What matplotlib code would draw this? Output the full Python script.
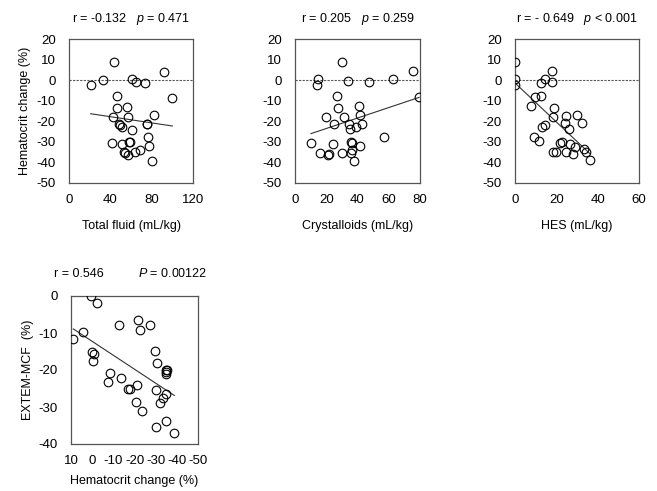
import matplotlib
matplotlib.use("Agg")
import matplotlib.pyplot as plt
import numpy as np

plt.rcParams['font.family'] = ['Liberation Sans', 'DejaVu Sans']
plt.rcParams['mathtext.fontset'] = 'custom'
plt.rcParams['mathtext.rm'] = 'Liberation Sans'
plt.rcParams['mathtext.it'] = 'Liberation Sans:italic'
plt.rcParams['axes.unicode_minus'] = False

# panel 1: total fluid vs hematocrit change
total_fluid = [44, 92, 21, 33, 61, 65, 74, 100, 46, 46, 56, 43, 57, 82, 48, 49.5,
               51, 61, 75, 76, 42, 51, 58, 59, 77, 69, 64, 54, 57, 80, 53, 75]
hct_total = [8.9, 4, -2.3, 0, 0.5, -1, -1.3, -8.5, -7.9, -13.7, -12.9, -17.9, -17.9, -17.1, -21.4, -22,
             -22.8, -24.1, -21.2, -27.7, -30.6, -31, -30.2, -30.2, -32.1, -34.1, -34.9, -35.4, -36.2, -39.3, -34.8, -21.5]

# panel 2: crystalloids
crystalloids = [30, 75.3, 14.9, 14, 33.6, 47.2, 62.6, 79.4, 26.8, 27.7, 40.9, 20, 31.5, 41.9, 24.7, 34.7,
                35.3, 39.1, 42.6, 57, 10.2, 24.5, 36, 36.4, 41.3, 36.6, 35.7, 30, 15.7, 21.5, 21.3, 37.5]
hct_cryst = [8.9, 4.3, 0.7, -2.3, -0.5, -1.1, 0.7, -8.3, -7.7, -13.6, -12.7, -18, -17.8, -17, -21.2, -21.4,
             -23.9, -22.7, -21.2, -27.8, -30.7, -30.9, -30.1, -30.7, -32.2, -34.2, -35.2, -35.2, -35.5, -35.7, -36.3, -39.4]

# panel 3: HES
hes = [0, 17.9, 0, 0, 12.8, 14.4, 18.1, 9.9, 12.5, 7.5, 18.9, 18.6, 24.8, 30.1, 24, 26.1,
       32.5, 13.3, 14.4, 9.4, 11.8, 21.6, 22.7, 26.6, 28.8, 33.3, 34.4, 18.4, 20, 24.8, 28, 36.3]
hct_hes = [8.9, 4.4, 0.5, -2.3, -1.2, 0.5, -0.7, -8.2, -7.7, -12.6, -13.5, -17.9, -17.6, -17, -21, -23.6,
           -21, -22.8, -21.8, -27.6, -29.8, -30.6, -30.2, -30.8, -32.3, -33.4, -34.7, -35, -34.8, -35, -36, -39]

# panel 4: hematocrit change vs EXTEM-MCF change
hct_mcf = [0.7, -2.1, 8.9, 4.2, -12.6, -21.6, -22.5, -27.5, 0.3, -1.1, -0.4, -8.4, -7.6, -13.5, -17, -17.8,
           -21.1, -20.9, -23.6, -29.7, -30.7, -35.1, -34.7, -35.4, -30, -35.1, -33.5, -31.9, -30.3, -35.1, -38.8, -35]
mcf = [0, -2, -11.6, -9.8, -7.9, -6.6, -9.3, -7.8, -15.2, -15.8, -17.7, -20.8, -23.3, -22.2, -25, -25,
       -24.1, -28.7, -31, -14.8, -18.2, -19.9, -21, -20, -25.5, -26.6, -27.6, -29, -35.3, -33.7, -37, -20.5]

W, H = 657, 491
FS = 9
fig = plt.figure(figsize=(W / 100, H / 100), dpi=100)

def add_ax(l, r, t, b):
    return fig.add_axes([l / W, 1 - b / H, (r - l) / W, (b - t) / H])

def style(ax):
    for s in ax.spines.values():
        s.set_color('#555555')
        s.set_linewidth(0.9)
    ax.tick_params(length=0, labelsize=FS)
    ax.tick_params(axis='x', labelsize=9.5, pad=8)
    ax.tick_params(axis='y', labelsize=9.5, pad=9.5)

def scatter_fit(ax, x, y):
    ax.plot(x, y, 'o', ms=6.2, mfc='none', mec='black', mew=0.8, zorder=3)
    k, c = np.polyfit(x, y, 1)
    xs = np.array([min(x), max(x)])
    ax.plot(xs, k * xs + c, color='#333333', lw=0.8, zorder=2)

panels = [
    (69, 193, total_fluid, hct_total, 120, [0, 40, 80, 120], 'Total fluid (mL/kg)',
     r'r = -0.132   $\it{p}$ = 0.471'),
    (295, 420, crystalloids, hct_cryst, 80, [0, 20, 40, 60, 80], 'Crystalloids (mL/kg)',
     r'r = 0.205   $\it{p}$ = 0.259'),
    (515, 639, hes, hct_hes, 60, [0, 20, 40, 60], 'HES (mL/kg)',
     r'r = - 0.649   $\it{p}$ < 0.001'),
]

for i, (l, r, x, y, xmax, xt, xl, title) in enumerate(panels):
    ax = add_ax(l, r, 39, 183)
    style(ax)
    ax.axhline(0, color='#555555', lw=0.8, ls=(0, (2, 1.2)), zorder=1)
    scatter_fit(ax, x, y)
    ax.set_xlim(0, xmax)
    ax.set_ylim(-50, 20)
    ax.set_xticks(xt)
    ax.set_yticks(range(-50, 21, 10))
    ax.set_xlabel(xl, fontsize=FS, labelpad=10)
    ax.set_title(title, fontsize=FS, pad=12)
    if i == 0:
        ax.set_ylabel('Hematocrit change (%)', fontsize=FS, labelpad=4)

ax = add_ax(71, 198, 296, 444)
style(ax)
scatter_fit(ax, hct_mcf, mcf)
ax.set_xlim(10, -50)
ax.set_ylim(-40, 0)
ax.set_xticks(range(10, -51, -10))
ax.set_yticks(range(-40, 1, 10))
ax.set_xlabel('Hematocrit change (%)', fontsize=FS, labelpad=6)
ax.set_ylabel('EXTEM-MCF  (%)', fontsize=FS, labelpad=3)
ax.set_title('r = 0.546', fontsize=FS, pad=14, loc='left', x=-0.13)
ax.set_title(r'$\it{P}$ = 0.00122', fontsize=FS, pad=14, loc='right', x=1.07)

fig.savefig('out.png', dpi=100)
